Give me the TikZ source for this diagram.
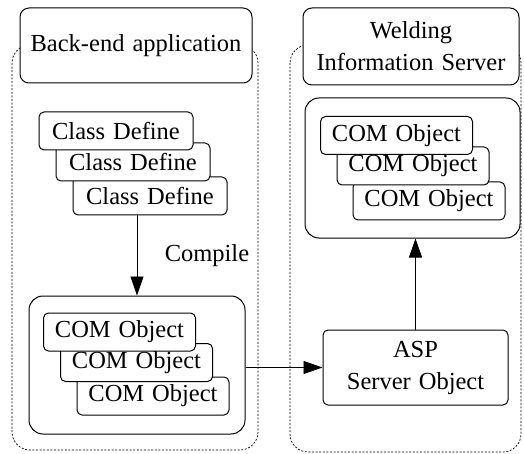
\documentclass[tikz,border=0pt]{standalone}
\usepackage{fontspec}
\setmainfont{Liberation Serif}
\usetikzlibrary{arrows.meta}
\newcommand{\boxfont}{\fontsize{24.5}{32}\selectfont\spaceskip=8pt plus 2pt minus 1pt\relax}
\tikzset{
  box/.style={draw, fill=white, line width=1pt, rounded corners=5pt, inner sep=0pt,
    font=\boxfont, align=center},
  objbox/.style={box, minimum width=152pt, minimum height=38pt},
  titlebox/.style={box, rounded corners=9pt},
  group/.style={draw, fill=white, line width=1pt, rounded corners=14pt, inner sep=0pt},
  zone/.style={draw, line width=0.7pt, dash pattern=on 2pt off 1.6pt, rounded corners=18pt},
  flow/.style={line width=0.9pt, -{Triangle[length=19pt, width=13pt]}}
}
\begin{document}
\begin{tikzpicture}[x=1pt, y=-1pt]
\useasboundingbox (0,0) rectangle (524,454);
% dashed zones
\draw[zone] (12,45) rectangle (258,450);
\draw[zone] (290,45) rectangle (521,452);
% titles
\node[titlebox, minimum width=232pt, minimum height=75pt] (ttlA) at (136,45.5) {Back-end application};
\node[titlebox, minimum width=216pt, minimum height=77pt] (ttlB) at (411,46.5) {Welding\\Information Server};
% class definitions
\node[objbox, minimum width=154pt] (cls3) at (150,196) {Class Define};
\node[objbox, minimum width=154pt] (cls2) at (133,162) {Class Define};
\node[objbox, minimum width=154pt] (cls1) at (116,131) {Class Define};
% compiled COM objects (back-end)
\node[group, minimum width=216pt, minimum height=138pt] (lcont) at (137,365) {};
\node[objbox] (lcom3) at (153,396) {COM Object};
\node[objbox] (lcom2) at (136.5,362.5) {COM Object};
\node[objbox] (lcom1) at (119.5,332) {COM Object};
% COM objects on the server
\node[group, minimum width=215pt, minimum height=140pt] (rcont) at (412.5,168) {};
\node[objbox] (rcom3) at (429,201) {COM Object};
\node[objbox] (rcom2) at (413,166) {COM Object};
\node[objbox] (rcom1) at (396.5,135.5) {COM Object};
% ASP server object
\node[box, minimum width=185pt, minimum height=75pt] (asp) at (415.5,367.5) {ASP\\Server Object};
% connectors
\draw[flow] (cls3.south -| lcont.north) -- (lcont.north)
  node[pos=0.5, right=24pt, font=\boxfont] (cmp) {Compile};
\draw[flow] (lcont.east |- asp.west) -- (asp.west);
\draw[flow] (asp.north) -- (asp.north |- rcont.south);
\end{tikzpicture}
\end{document}
